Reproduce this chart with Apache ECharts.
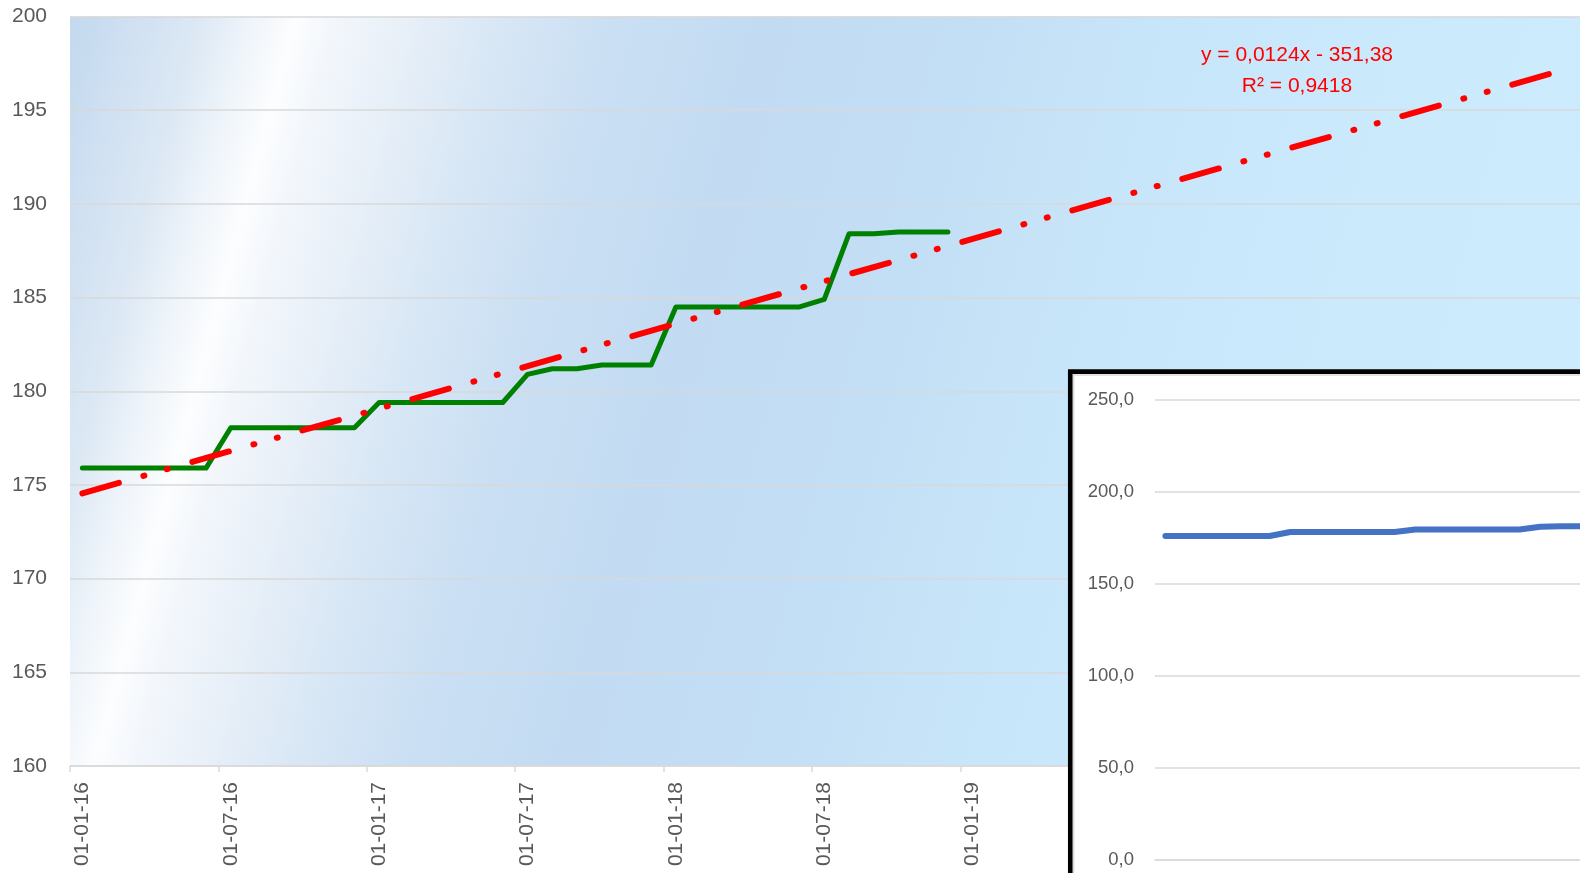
<!DOCTYPE html>
<html>
<head>
<meta charset="utf-8">
<script src="https://cdn.jsdelivr.net/npm/echarts@6/dist/echarts.min.js"></script>
<style>
html,body{margin:0;padding:0;background:#fff;}
#chart{width:1580px;height:873px;}
</style>
</head>
<body>
<div id="chart"></div>
<script>
// Month categories (dd-mm-yy), first day of each month
const months = [
  '01-01-16','01-02-16','01-03-16','01-04-16','01-05-16','01-06-16','01-07-16','01-08-16','01-09-16','01-10-16','01-11-16','01-12-16',
  '01-01-17','01-02-17','01-03-17','01-04-17','01-05-17','01-06-17','01-07-17','01-08-17','01-09-17','01-10-17','01-11-17','01-12-17',
  '01-01-18','01-02-18','01-03-18','01-04-18','01-05-18','01-06-18','01-07-18','01-08-18','01-09-18','01-10-18','01-11-18','01-12-18',
  '01-01-19','01-02-19','01-03-19','01-04-19','01-05-19','01-06-19','01-07-19','01-08-19','01-09-19','01-10-19','01-11-19','01-12-19',
  '01-01-20','01-02-20','01-03-20','01-04-20','01-05-20','01-06-20','01-07-20','01-08-20','01-09-20','01-10-20','01-11-20','01-12-20',
  '01-01-21','01-02-21'
];
// Monthly values
const values = [
  175.9,175.9,175.9,175.9,175.9,175.9,
  178.05,178.05,178.05,178.05,178.05,178.05,
  179.4,179.4,179.4,179.4,179.4,179.4,
  180.9,181.2,181.2,181.4,181.4,181.4,
  184.5,184.5,184.5,184.5,184.5,184.5,
  184.9,188.4,188.4,188.5,188.5,188.5
];
// Linear trendline endpoints (month index, value), with forward forecast
const trendX = [0, 59.5];
const trendY = [174.55, 197.0];
const trendLabel = ['y = 0,0124x - 351,38', 'R\u00B2 = 0,9418'];
// Tick labels
const mainYTicks = ['160','165','170','175','180','185','190','195','200'];
const insetYTicks = ['0,0','50,0','100,0','150,0','200,0','250,0'];
const insetMonths = months.slice(0, values.length);

const FONT = 'Liberation Sans';
const LABEL = '#595959';
const GRIDC = '#d9d9d9';

// background gradient (along direction perpendicular to the white streak)
const bg = new echarts.graphic.LinearGradient(70, 16.5, 1666.3, 446.1, [
  {offset: 0, color: '#c4d9ee'},
  {offset: 0.0175, color: '#c8dcf0'},
  {offset: 0.035, color: '#cfe0f2'},
  {offset: 0.0756, color: '#dce8f4'},
  {offset: 0.105, color: '#eef4fa'},
  {offset: 0.132, color: '#fcfdfe'},
  {offset: 0.154, color: '#f3f7fc'},
  {offset: 0.192, color: '#e9f0f8'},
  {offset: 0.259, color: '#d6e6f5'},
  {offset: 0.319, color: '#cadff3'},
  {offset: 0.410, color: '#c2dbf2'},
  {offset: 0.531, color: '#c3dff5'},
  {offset: 0.652, color: '#c8e6fa'},
  {offset: 0.803, color: '#cbebfd'},
  {offset: 1, color: '#cdedfe'}
], true);

const chart = echarts.init(document.getElementById('chart'), null, {renderer: 'canvas'});
const option = {
  animation: false,
  backgroundColor: '#ffffff',
  grid: [
    {left: 70, top: 16.5, width: 24.73 * months.length, height: 749.5, show: true, backgroundColor: bg, borderWidth: 0, containLabel: false, outerBoundsMode: 'none'},
    {left: 1155, top: 399.5, width: 20.83 * insetMonths.length, height: 460.5, show: false, containLabel: false, outerBoundsMode: 'none'}
  ],
  xAxis: [
    {
      type: 'category', gridIndex: 0, data: months, boundaryGap: true,
      axisLine: {show: true, lineStyle: {color: GRIDC, width: 1.5}},
      axisTick: {show: true, interval: 5, length: 6, lineStyle: {color: GRIDC, width: 1.5}},
      axisLabel: {interval: 5, rotate: 90, margin: 16, color: LABEL, fontFamily: FONT, fontSize: 21},
      splitLine: {show: false}
    },
    {
      type: 'value', gridIndex: 0, min: -0.5, max: months.length - 0.5, show: false
    },
    {
      type: 'category', gridIndex: 1, data: insetMonths, boundaryGap: true, z: 20,
      axisLine: {show: true, lineStyle: {color: GRIDC, width: 1.5}},
      axisTick: {show: false},
      axisLabel: {show: false},
      splitLine: {show: false}
    }
  ],
  yAxis: [
    {
      type: 'value', gridIndex: 0, min: 160, max: 200, interval: 5,
      axisLine: {show: false}, axisTick: {show: false},
      axisLabel: {margin: 23, color: LABEL, fontFamily: FONT, fontSize: 21,
        formatter: v => mainYTicks[Math.round((v - 160) / 5)]},
      splitLine: {show: true, lineStyle: {color: GRIDC, width: 1.5}}
    },
    {
      type: 'value', gridIndex: 1, min: 0, max: 250, interval: 50, z: 20,
      axisLine: {show: false}, axisTick: {show: false},
      axisLabel: {margin: 21, color: LABEL, fontFamily: FONT, fontSize: 18.5,
        formatter: v => insetYTicks[Math.round(v / 50)]},
      splitLine: {show: true, lineStyle: {color: GRIDC, width: 1.5}}
    }
  ],
  graphic: [
    {
      type: 'rect', z: 10, silent: true,
      shape: {x: 1070.3, y: 371.7, width: 700, height: 700},
      style: {fill: '#ffffff', stroke: '#000000', lineWidth: 4.7}
    },
    {
      type: 'rect', z: 11, silent: true,
      shape: {x: 1073.6, y: 375, width: 700, height: 700},
      style: {fill: 'none', stroke: '#d9d9d9', lineWidth: 1.5}
    },
    {
      type: 'text', z: 5, silent: true,
      x: 1297, y: 70.7,
      style: {text: trendLabel.join('\n'), fill: '#ff0000', font: '21px "Liberation Sans"',
        textAlign: 'center', textVerticalAlign: 'middle', lineHeight: 30.5}
    }
  ],
  series: [
    {
      type: 'line', xAxisIndex: 0, yAxisIndex: 0, data: values, symbol: 'none', z: 2,
      lineStyle: {color: '#008000', width: 5, cap: 'round', join: 'round'}
    },
    {
      type: 'line', xAxisIndex: 1, yAxisIndex: 0, symbol: 'none', z: 3,
      data: trendX.map((x, i) => [x, trendY[i]]),
      lineStyle: {color: '#ff0000', width: 6, cap: 'round', type: [38, 25.5, 1, 23.3, 1, 25.6]}
    },
    {
      type: 'line', xAxisIndex: 2, yAxisIndex: 1, data: values, symbol: 'none', z: 30,
      lineStyle: {color: '#4472c4', width: 6, cap: 'round', join: 'round'}
    }
  ]
};
chart.setOption(option);
</script>
</body>
</html>
